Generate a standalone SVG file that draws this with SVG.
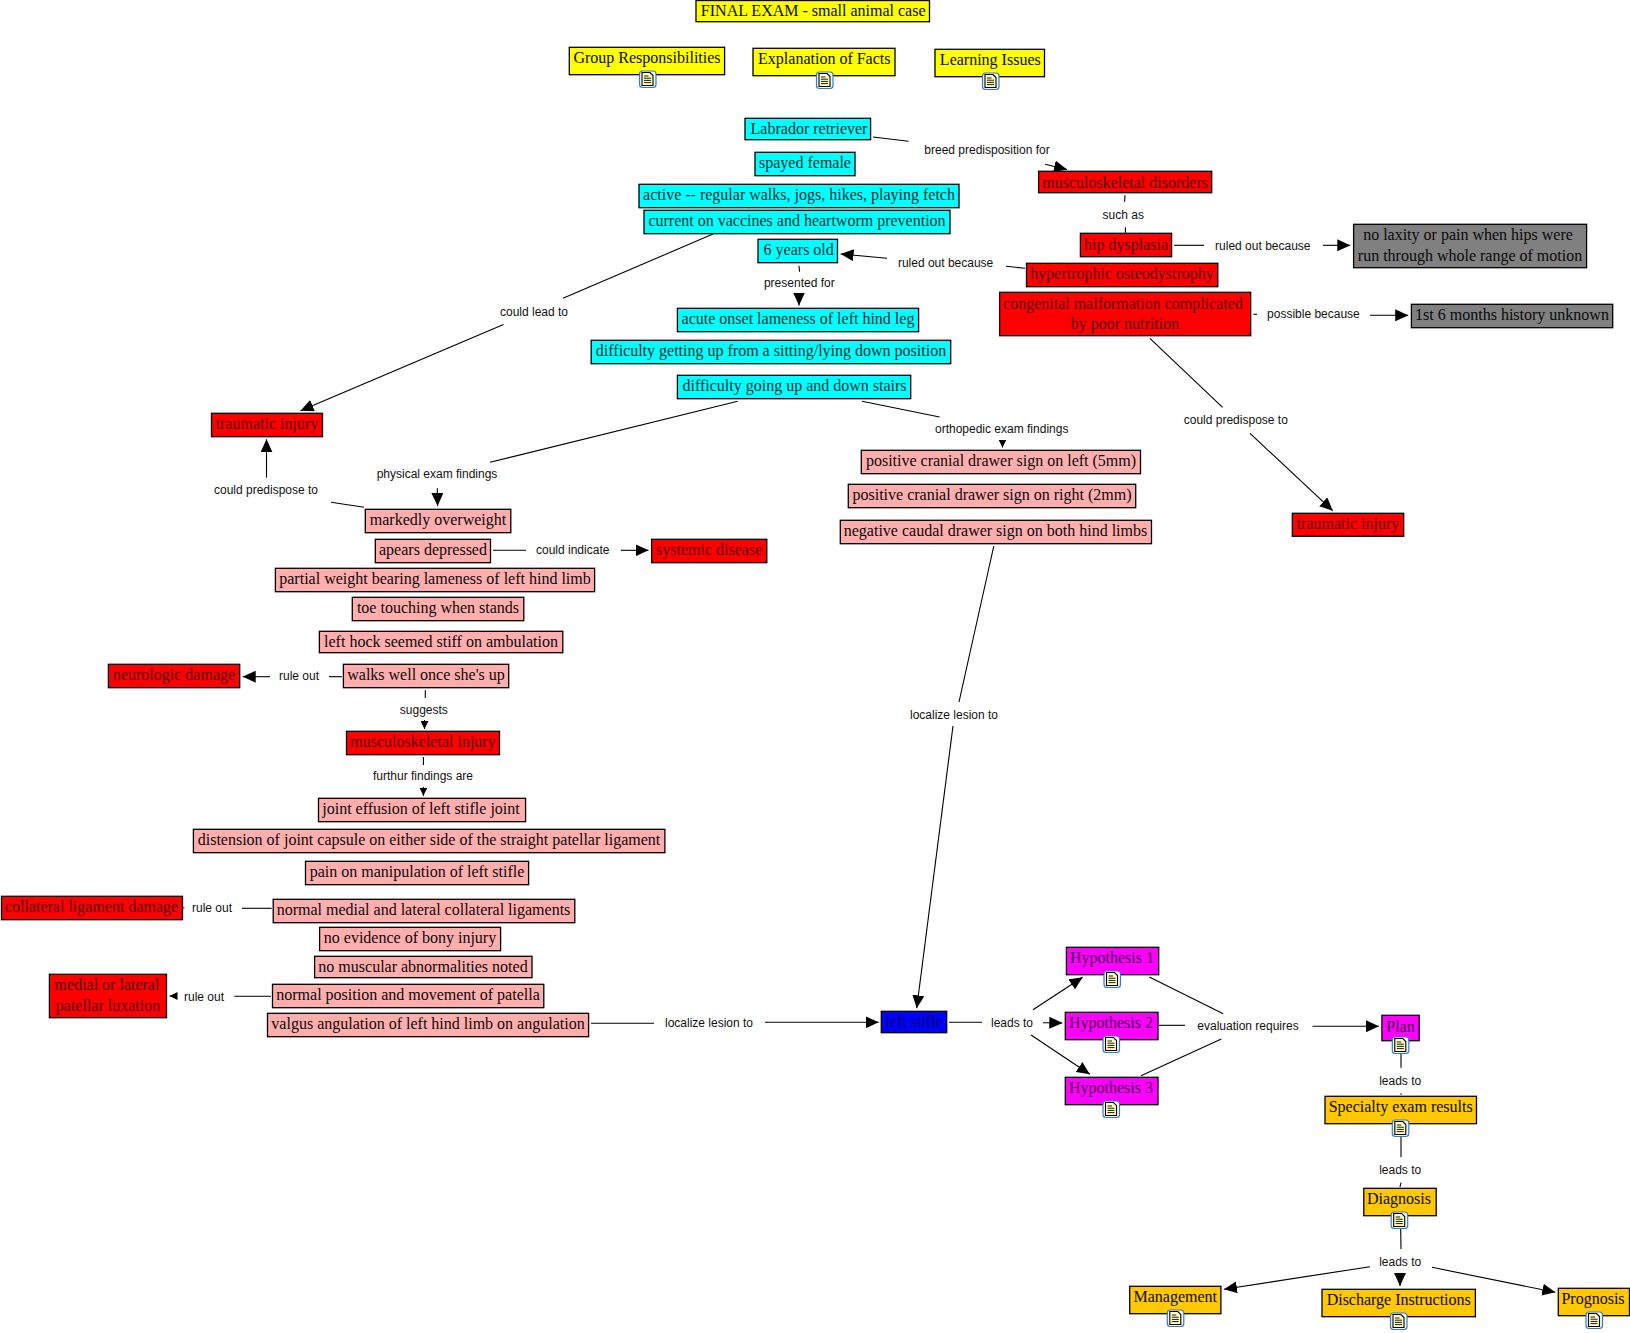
<svg xmlns="http://www.w3.org/2000/svg" width="1630" height="1333" viewBox="0 0 1630 1333">
<style>
text{font-family:"Liberation Serif","Times New Roman",serif;font-size:16px;fill:#0a0a0a;text-anchor:middle}
rect.n{stroke:#000;stroke-width:1.3}
.y{fill:#FFFF00}.c{fill:#00FFFF}.r{fill:#FF0000}.p{fill:#FFAEAE}.g{fill:#808080}.m{fill:#FF00FF}.o{fill:#FFC800}.b{fill:#0000FF}
rect.r~text{fill:#520000}
rect.b~text{fill:#000060}
rect.m~text{fill:#400040}
rect.c~text{fill:#002E2E}
#connectors line{stroke:#000;stroke-width:1.1;fill:none}
#connectors line.a{marker-end:url(#arrow)}
#connectors line.s{marker-end:url(#arrow-s)}
#connectors text{font-family:"Liberation Sans",Arial,sans-serif;font-size:12px;fill:#111}
</style>
<defs>
<marker id="arrow" markerUnits="userSpaceOnUse" markerWidth="13" markerHeight="12" refX="13" refY="6" orient="auto"><path d="M0,0L13,6L0,12z" fill="#000"/></marker>
<marker id="arrow-s" markerUnits="userSpaceOnUse" markerWidth="8" markerHeight="8" refX="8" refY="4" orient="auto"><path d="M0,0L8,4L0,8z" fill="#000"/></marker>
<g id="doc">
<rect x="-8" y="-8" width="16.5" height="16.5" rx="3" fill="#F4F8FE" stroke="#3C78C8" stroke-width="1.2"/>
<path d="M-5.5,-6.5H2.5L5.5,-3.5V6.5H-5.5z" fill="#FFFFC4" stroke="#000" stroke-width="1.1"/>
<path d="M-3.5,-3H1M-3.5,-.8H3.5M-3.5,1.4H3.5M-3.5,3.6H3.5" stroke="#000" stroke-width=".9" fill="none"/>
</g>
</defs>
<rect width="1630" height="1333" fill="#fff"/>
<g id="connectors">
<line x1="873" y1="137" x2="908.5" y2="141.3"/>
<text x="987" y="153.5">breed predisposition for</text>
<line class="a" x1="1045" y1="164.3" x2="1067" y2="169.5"/>
<line x1="713" y1="234" x2="563" y2="298.3"/>
<text x="534" y="316">could lead to</text>
<line class="a" x1="503.5" y1="324.5" x2="300.5" y2="410.7"/>
<line x1="799" y1="265.7" x2="799.6" y2="271.7"/>
<text x="799.3" y="286.5">presented for</text>
<line class="a" x1="799" y1="293" x2="799" y2="305.5"/>
<line x1="1025" y1="268.3" x2="1006" y2="266.3"/>
<text x="945.6" y="266.7">ruled out because</text>
<line class="a" x1="887" y1="258.3" x2="840.6" y2="254"/>
<line x1="1125" y1="195.3" x2="1124.6" y2="201.7"/>
<text x="1123.3" y="219">such as</text>
<line x1="1125.4" y1="227.3" x2="1125.4" y2="232.7"/>
<line x1="1174" y1="245.3" x2="1204" y2="245.3"/>
<text x="1262.8" y="249.7">ruled out because</text>
<line class="a" x1="1323" y1="245.3" x2="1350.3" y2="245.3"/>
<line x1="1253.5" y1="314.3" x2="1257" y2="314.3"/>
<text x="1313.4" y="318">possible because</text>
<line class="a" x1="1370" y1="315.3" x2="1408.2" y2="315.3"/>
<line x1="1149.9" y1="338.3" x2="1222.6" y2="407.3"/>
<text x="1235.8" y="423.7">could predispose to</text>
<line class="a" x1="1250" y1="433.3" x2="1332.7" y2="510.7"/>
<line class="a" x1="266.5" y1="477.7" x2="266.5" y2="439.3"/>
<text x="266" y="494">could predispose to</text>
<line x1="364" y1="507.3" x2="331" y2="502.3"/>
<line x1="737.7" y1="401.3" x2="490" y2="462.3"/>
<text x="437" y="478">physical exam findings</text>
<line class="a" x1="437.3" y1="488.3" x2="437.6" y2="506"/>
<line x1="493" y1="550.3" x2="526" y2="550.3"/>
<text x="572.7" y="554">could indicate</text>
<line class="a" x1="621" y1="550.3" x2="648.5" y2="550.3"/>
<line x1="862" y1="401.3" x2="939.6" y2="417"/>
<text x="1001.7" y="433">orthopedic exam findings</text>
<line class="s" x1="1002.5" y1="440" x2="1002.5" y2="447.5"/>
<line x1="993.8" y1="546" x2="959" y2="702"/>
<text x="954" y="718.6">localize lesion to</text>
<line class="a" x1="953" y1="726" x2="916.7" y2="1008.3"/>
<line class="a" x1="270" y1="676.7" x2="242.7" y2="676.7"/>
<text x="299" y="680.2">rule out</text>
<line x1="328.9" y1="676.7" x2="341.9" y2="676.7"/>
<line x1="425.3" y1="690.3" x2="425.3" y2="698"/>
<text x="423.8" y="713.7">suggests</text>
<line class="s" x1="424.5" y1="720" x2="424.5" y2="729"/>
<line x1="423.4" y1="757" x2="423.4" y2="765"/>
<text x="423" y="779.7">furthur findings are</text>
<line class="s" x1="423.4" y1="787" x2="423.4" y2="795.7"/>
<line x1="183" y1="907.7" x2="184.5" y2="907.7"/>
<text x="212" y="911.7">rule out</text>
<line x1="241.9" y1="908.3" x2="271.7" y2="908.3"/>
<line class="s" x1="176" y1="996" x2="169.5" y2="996"/>
<text x="204" y="1001">rule out</text>
<line x1="234.2" y1="996.3" x2="271" y2="996.3"/>
<line x1="591" y1="1023.3" x2="654" y2="1023.3"/>
<text x="709" y="1026.7">localize lesion to</text>
<line class="a" x1="765" y1="1022.3" x2="878.7" y2="1022.3"/>
<line x1="949" y1="1022.3" x2="982" y2="1022.3"/>
<text x="1012" y="1026.7">leads to</text>
<line class="a" x1="1033" y1="1009.7" x2="1082.6" y2="977.3"/>
<line class="a" x1="1043" y1="1022.7" x2="1062.3" y2="1023"/>
<line class="a" x1="1031" y1="1035" x2="1089.8" y2="1074.3"/>
<line x1="1149.3" y1="977" x2="1223.2" y2="1013.7"/>
<line x1="1159" y1="1025.3" x2="1185" y2="1025.3"/>
<line x1="1141" y1="1075.7" x2="1221.3" y2="1039"/>
<text x="1248" y="1030">evaluation requires</text>
<line class="a" x1="1312.5" y1="1026.3" x2="1378.9" y2="1026.3"/>
<line x1="1401" y1="1053.7" x2="1401" y2="1067.7"/>
<text x="1400.2" y="1084.7">leads to</text>
<line x1="1401" y1="1093.3" x2="1401" y2="1094.7"/>
<line x1="1401" y1="1137" x2="1401" y2="1157"/>
<text x="1400.2" y="1173.7">leads to</text>
<line x1="1401" y1="1182.7" x2="1400" y2="1187"/>
<line x1="1400.7" y1="1229" x2="1401" y2="1249"/>
<text x="1400.2" y="1265.7">leads to</text>
<line class="a" x1="1370" y1="1266.7" x2="1224" y2="1289.3"/>
<line class="a" x1="1400" y1="1274" x2="1400" y2="1286"/>
<line class="a" x1="1432" y1="1267.3" x2="1555.3" y2="1292.3"/>
</g>
<g id="n-title"><rect class="n y" x="696" y="0.5" width="233.5" height="21.2"/><text x="813.2" y="15.6">FINAL EXAM - small animal case</text></g>
<g id="n-group"><rect class="n y" x="569.3" y="47.3" width="155.3" height="27.4"/><text x="647" y="63">Group Responsibilities</text><use href="#doc" x="647.5" y="79"/></g>
<g id="n-facts"><rect class="n y" x="753" y="48.3" width="142" height="27.4"/><text x="824.3" y="64">Explanation of Facts</text><use href="#doc" x="824.5" y="80"/></g>
<g id="n-issues"><rect class="n y" x="935" y="49.3" width="109.5" height="27.4"/><text x="990.3" y="65">Learning Issues</text><use href="#doc" x="990.5" y="81"/></g>
<g id="n-lab"><rect class="n c" x="745" y="118.3" width="125.6" height="21.4"/><text x="809" y="134.4">Labrador retriever</text></g>
<g id="n-spayed"><rect class="n c" x="755" y="152.3" width="100" height="23.4"/><text x="805" y="168">spayed female</text></g>
<g id="n-active"><rect class="n c" x="639" y="184.3" width="320" height="23.4"/><text x="799" y="200">active -- regular walks, jogs, hikes, playing fetch</text></g>
<g id="n-current"><rect class="n c" x="644" y="210.3" width="306" height="23.4"/><text x="797" y="226">current on vaccines and heartworm prevention</text></g>
<g id="n-six"><rect class="n c" x="758" y="239.3" width="79.5" height="23.4"/><text x="798.7" y="255">6 years old</text></g>
<g id="n-acute"><rect class="n c" x="677.4" y="308.3" width="241.2" height="23.4"/><text x="798" y="324">acute onset lameness of left hind leg</text></g>
<g id="n-sitting"><rect class="n c" x="591.2" y="340.3" width="359.5" height="23.4"/><text x="771" y="356">difficulty getting up from a sitting/lying down position</text></g>
<g id="n-stairs"><rect class="n c" x="677.4" y="375.3" width="233.3" height="23.4"/><text x="794.5" y="391">difficulty going up and down stairs</text></g>
<g id="n-msk"><rect class="n r" x="1038.6" y="171.3" width="173.1" height="21.4"/><text x="1125.1" y="187.5">musculoskeletal disorders</text></g>
<g id="n-hip"><rect class="n r" x="1080.4" y="233.3" width="91.2" height="23.4"/><text x="1126" y="249.5">hip dysplasia</text></g>
<g id="n-hyper"><rect class="n r" x="1026.5" y="263.3" width="191.3" height="23.4"/><text x="1122.1" y="279.3">hypertrophic osteodystrophy</text></g>
<g id="n-cong"><rect class="n r" x="999.6" y="292.3" width="251.1" height="43.4"/><text x="1123" y="308.8">congenital malformation complicated</text><text x="1125" y="328.8">by poor nutrition</text></g>
<g id="n-laxity"><rect class="n g" x="1353.6" y="224.3" width="233" height="43.4"/><text x="1468" y="240.3">no laxity or pain when hips were</text><text x="1470" y="260.8">run through whole range of motion</text></g>
<g id="n-history"><rect class="n g" x="1411.4" y="304.3" width="201.3" height="23.4"/><text x="1512" y="320.3">1st 6 months history unknown</text></g>
<g id="n-trauma-r"><rect class="n r" x="1292.3" y="513.3" width="111.4" height="23"/><text x="1348" y="529.4">traumatic injury</text></g>
<g id="n-trauma-l"><rect class="n r" x="211.5" y="413.3" width="111" height="23.4"/><text x="267" y="429.4">traumatic injury</text></g>
<g id="n-over"><rect class="n p" x="365.3" y="509.3" width="145.5" height="23.4"/><text x="438" y="525.3">markedly overweight</text></g>
<g id="n-dep"><rect class="n p" x="375.3" y="539.3" width="115.2" height="23.4"/><text x="433" y="555.3">apears depressed</text></g>
<g id="n-sys"><rect class="n r" x="651.6" y="539.3" width="115.2" height="23.4"/><text x="709.2" y="555.4">systemic disease</text></g>
<g id="n-partial"><rect class="n p" x="275.4" y="568.3" width="319.2" height="23.4"/><text x="435" y="584.3">partial weight bearing lameness of left hind limb</text></g>
<g id="n-toe"><rect class="n p" x="352.3" y="597.3" width="171.5" height="23.4"/><text x="438" y="613.3">toe touching when stands</text></g>
<g id="n-hock"><rect class="n p" x="319.4" y="631.3" width="243.4" height="21.4"/><text x="441" y="647.3">left hock seemed stiff on ambulation</text></g>
<g id="n-neuro"><rect class="n r" x="108.4" y="664.3" width="131.3" height="23.4"/><text x="174" y="680.4">neurologic damage</text></g>
<g id="n-walks"><rect class="n p" x="343.4" y="664.3" width="165.3" height="23.4"/><text x="426" y="680.3">walks well once she's up</text></g>
<g id="n-mskinj"><rect class="n r" x="346.5" y="731.3" width="153" height="23.4"/><text x="423" y="747.4">musculoskeletal injury</text></g>
<g id="n-joint"><rect class="n p" x="318.5" y="798.3" width="207.1" height="23.4"/><text x="421" y="814.3">joint effusion of left stifle joint</text></g>
<g id="n-dist"><rect class="n p" x="193.4" y="829.3" width="471.5" height="23.4"/><text x="429" y="845.3">distension of joint capsule on either side of the straight patellar ligament</text></g>
<g id="n-pain"><rect class="n p" x="305.5" y="861.3" width="223.1" height="23.4"/><text x="417" y="877.3">pain on manipulation of left stifle</text></g>
<g id="n-coll"><rect class="n r" x="1.5" y="896.3" width="181" height="23.4"/><text x="91.5" y="912.4">collateral ligament damage</text></g>
<g id="n-medial"><rect class="n p" x="273.2" y="899.3" width="301.6" height="23.4"/><text x="423.5" y="915.3">normal medial and lateral collateral ligaments</text></g>
<g id="n-bony"><rect class="n p" x="319.6" y="927.3" width="181" height="23.4"/><text x="410" y="943.3">no evidence of bony injury</text></g>
<g id="n-musc"><rect class="n p" x="314.6" y="956.3" width="217.4" height="21.4"/><text x="423" y="972.3">no muscular abnormalities noted</text></g>
<g id="n-pat"><rect class="n p" x="272.5" y="984.3" width="271.3" height="23.4"/><text x="408" y="1000.3">normal position and movement of patella</text></g>
<g id="n-valgus"><rect class="n p" x="267.5" y="1013.3" width="321.1" height="23.4"/><text x="428" y="1029.3">valgus angulation of left hind limb on angulation</text></g>
<g id="n-lux"><rect class="n r" x="49.4" y="974.3" width="117.1" height="43.4"/><text x="107" y="990.4">medial or lateral</text><text x="108" y="1010.8">patellar luxation</text></g>
<g id="n-pos-l"><rect class="n p" x="861.3" y="450.3" width="279.2" height="23.4"/><text x="1001" y="466.3">positive cranial drawer sign on left (5mm)</text></g>
<g id="n-pos-r"><rect class="n p" x="848.3" y="484.3" width="287.4" height="23.4"/><text x="992" y="500.3">positive cranial drawer sign on right (2mm)</text></g>
<g id="n-neg"><rect class="n p" x="840.3" y="520.3" width="311.2" height="23.4"/><text x="995.5" y="536.3">negative caudal drawer sign on both hind limbs</text></g>
<g id="n-stifle"><rect class="n b" x="881.3" y="1011.3" width="65.4" height="21.4"/><text x="914" y="1027.4">left stifle</text></g>
<g id="n-h1"><rect class="n m" x="1066.4" y="947.3" width="92.3" height="27.4"/><text x="1112" y="963">Hypothesis 1</text><use href="#doc" x="1112" y="979"/></g>
<g id="n-h2"><rect class="n m" x="1065.3" y="1012.3" width="92.7" height="27.4"/><text x="1111" y="1028">Hypothesis 2</text><use href="#doc" x="1111" y="1044"/></g>
<g id="n-h3"><rect class="n m" x="1065.3" y="1077.3" width="92.7" height="27.4"/><text x="1111" y="1093">Hypothesis 3</text><use href="#doc" x="1111" y="1109"/></g>
<g id="n-plan"><rect class="n m" x="1381.9" y="1015.3" width="37.3" height="25.4"/><text x="1400.5" y="1031.5">Plan</text><use href="#doc" x="1400.3" y="1045"/></g>
<g id="n-spec"><rect class="n o" x="1325" y="1096.3" width="151.5" height="27.4"/><text x="1400.7" y="1112">Specialty exam results</text><use href="#doc" x="1400.3" y="1128"/></g>
<g id="n-diag"><rect class="n o" x="1363.8" y="1188.3" width="72.4" height="27.4"/><text x="1399" y="1204">Diagnosis</text><use href="#doc" x="1399.2" y="1220"/></g>
<g id="n-mgmt"><rect class="n o" x="1129.7" y="1286.3" width="91.2" height="27.4"/><text x="1175.3" y="1302">Management</text><use href="#doc" x="1175.3" y="1318"/></g>
<g id="n-disc"><rect class="n o" x="1322" y="1289.3" width="153.4" height="27.4"/><text x="1398.7" y="1305">Discharge Instructions</text><use href="#doc" x="1398.5" y="1321"/></g>
<g id="n-prog"><rect class="n o" x="1558.3" y="1288.3" width="71.2" height="27.4"/><text x="1593" y="1304">Prognosis</text><use href="#doc" x="1594" y="1320"/></g>
</svg>
